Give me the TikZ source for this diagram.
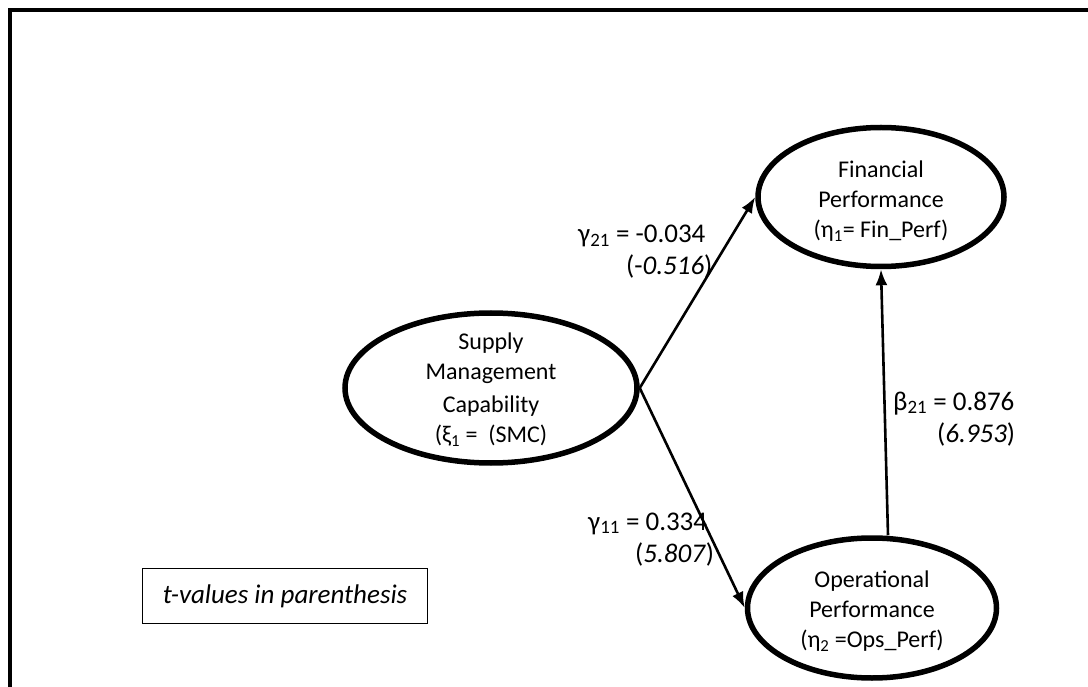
\documentclass[tikz,border=0pt]{standalone}
\usepackage{fontspec}
\setmainfont{Carlito}
\usetikzlibrary{shapes.geometric,arrows.meta}
\tikzset{
  latent/.style={ellipse, draw, line width=5.5pt, inner sep=0pt},
  link/.style={line width=2.6pt, -{Latex[length=16pt,width=12pt]}},
  coef/.style={anchor=base west, align=left, inner sep=0pt, font=\fontsize{27}{32}\selectfont},
  notebox/.style={draw, line width=1.6pt, minimum width=285pt, minimum height=55pt, font=\fontsize{27}{32}\selectfont}
}
\begin{document}
\begin{tikzpicture}[x=1pt, y=-1pt, font=\fontsize{24}{30}\selectfont]
  \useasboundingbox (0,0) rectangle (1088,687);
  \begin{scope}
    \clip (0,0) rectangle (1088,687);
    \draw[line width=4pt] (10,10) rectangle (1120,720);
  \end{scope}
  % constructs
  \node[latent, minimum width=292pt, minimum height=150pt] (smc) at (491,388) {};
  \node[latent, minimum width=246pt, minimum height=139pt] (fin) at (881,197) {};
  \node[latent, minimum width=249pt, minimum height=140pt] (ops) at (872,608) {};
  \node[align=center] (smctxt) at (491,390) {Supply\\Management\\[3pt]Capability\\(ξ\textsubscript{1} =~ (SMC)};
  \node[align=center] (fintxt) at (881,201) {Financial\\Performance\\(η\textsubscript{1}= Fin\_Perf)};
  \node[align=center] (opstxt) at (872,611) {Operational\\Performance\\(η\textsubscript{2} =Ops\_Perf)};
  % paths
  \draw[link] (smc.east) -- (fin.west);
  \draw[link] (smc.east) -- (ops.west);
  \draw[link] ([xshift=16pt]ops.north) -- (fin.south);
  \node[coef] (g21) at (578,275) {γ\textsubscript{21} = -0.034\\\hspace*{48pt}(-\textit{0.516})};
  \node[coef] (g11) at (588,562) {γ\textsubscript{11} = 0.334\\\hspace*{47pt}(\textit{5.807})};
  \node[coef] (b21) at (893,442) {β\textsubscript{21} = 0.876\\\hspace*{44pt}(\textit{6.953})};
  \node[notebox] (note) at (285,596) {\textit{t-values in parenthesis}};
\end{tikzpicture}
\end{document}
